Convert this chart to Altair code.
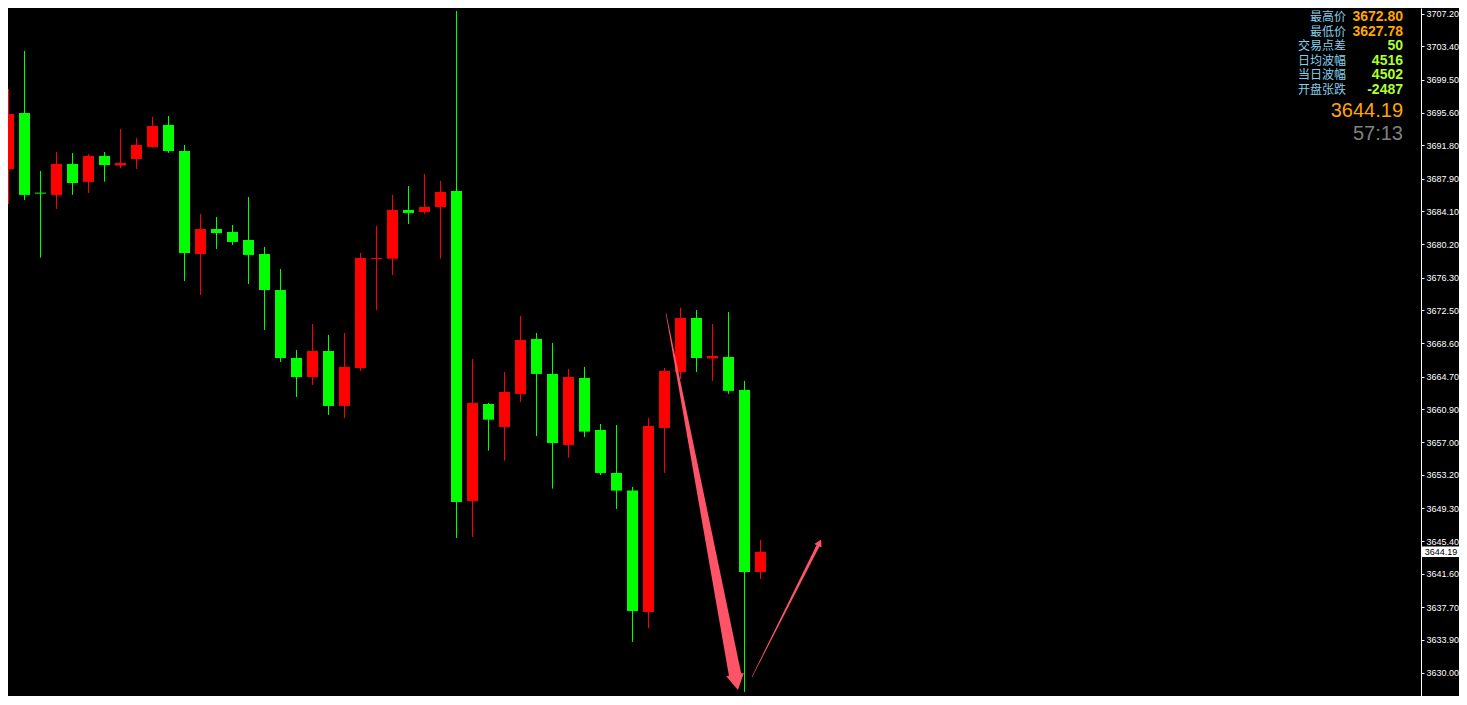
import altair as alt
import pandas as pd

# ---------------- data ----------------
opens = [3689.04, 3695.60, 3686.27, 3686.00, 3689.63, 3687.52, 3690.57, 3689.45, 3690.21, 3691.62,
         3694.20, 3691.15, 3679.08, 3682.01, 3681.66, 3680.72, 3679.08, 3674.86, 3666.90, 3664.67,
         3667.72, 3661.28, 3665.73, 3678.50, 3678.53, 3684.24, 3684.00, 3684.59, 3686.46, 3650.15,
         3661.51, 3658.82, 3662.69, 3669.13, 3665.03, 3656.71, 3664.56, 3658.47, 3653.43, 3651.36,
         3637.13, 3658.70, 3665.26, 3671.59, 3666.84, 3667.02, 3663.15, 3641.83]
highs = [3698.41, 3702.87, 3688.81, 3691.03, 3690.92, 3690.80, 3691.03, 3693.73, 3692.67, 3695.13,
         3695.25, 3691.85, 3683.77, 3683.42, 3682.48, 3685.76, 3679.90, 3677.33, 3667.84, 3670.88,
         3669.60, 3669.83, 3679.20, 3682.36, 3686.00, 3687.05, 3688.46, 3687.64, 3707.55, 3666.78,
         3661.63, 3665.26, 3671.82, 3669.83, 3668.66, 3665.61, 3665.85, 3659.17, 3659.05, 3651.79,
         3659.87, 3665.73, 3672.80, 3672.52, 3670.88, 3672.29, 3664.21, 3645.58]
lows = [3684.94, 3685.41, 3678.65, 3684.36, 3686.00, 3686.23, 3687.55, 3689.16, 3689.04, 3691.50,
        3690.92, 3675.92, 3674.28, 3679.67, 3680.14, 3675.57, 3670.18, 3666.43, 3662.33, 3663.74,
        3660.22, 3659.87, 3665.38, 3672.52, 3676.62, 3682.60, 3683.77, 3678.53, 3645.81, 3645.93,
        3656.04, 3654.86, 3661.75, 3657.76, 3651.59, 3655.22, 3657.64, 3653.19, 3649.21, 3633.63,
        3635.27, 3653.43, 3664.44, 3665.26, 3664.21, 3662.69, 3627.78, 3641.01]
closes = [3695.48, 3686.00, 3686.15, 3689.63, 3687.40, 3690.57, 3689.51, 3689.74, 3691.85, 3694.08,
          3691.15, 3679.20, 3682.01, 3681.54, 3680.49, 3678.97, 3674.86, 3666.90, 3664.67, 3667.72,
          3661.28, 3665.85, 3678.62, 3678.62, 3684.24, 3683.89, 3684.59, 3686.35, 3650.03, 3661.63,
          3659.67, 3662.92, 3669.01, 3665.03, 3656.94, 3664.67, 3658.27, 3653.43, 3651.36, 3637.25,
          3658.93, 3665.38, 3671.59, 3666.90, 3667.13, 3663.04, 3641.83, 3644.19]

axis_ticks = [3707.20, 3703.40, 3699.50, 3695.60, 3691.80, 3687.90, 3684.10, 3680.20, 3676.30,
              3672.50, 3668.60, 3664.70, 3660.90, 3657.00, 3653.20, 3649.30, 3645.40, 3641.60,
              3637.70, 3633.90, 3630.00, 3626.10]

info_labels = ["最高价", "最低价", "交易点差", "日均波幅", "当日波幅", "开盘张跌"]
info_values = ["3672.80", "3627.78", "50", "4516", "4502", "-2487"]
info_colors = ["#FFA500", "#FFA500", "#ADFF2F", "#ADFF2F", "#ADFF2F", "#ADFF2F"]
last_price = 3644.19
big_price_text = "3644.19"
timer_text = "57:13"

# arrows (bar index, price)
arrow1_idx = [41.09, 45.41]
arrow1_price = [3672.17, 3629.80]
arrow1_width = [0.5, 12.5]
head1_idx = [45.50]
head1_price = [3628.91]

arrow2_idx = [46.47, 50.61]
arrow2_price = [3629.53, 3644.95]
arrow2_width = [0.5, 3.2]
head2_idx = [50.69]
head2_price = [3645.26]

# ---------------- chart ----------------
W, H = 1413, 688
PAD_R = 38
ARROW = "#FF5468"

xscale = alt.Scale(domain=[-0.03125, 88.28125], nice=False, zero=False)
yscale = alt.Scale(domain=[3627.30, 3707.90], nice=False, zero=False)
yaxis = alt.Axis(orient="right", values=axis_ticks, format=".2f", labelColor="#FFFFFF",
                 domainColor="#FFFFFF", tickColor="#FFFFFF", tickSize=3, labelPadding=2,
                 labelFont="Liberation Sans", labelFontSize=9, grid=False, title=None,
                 labelOverlap=False)

candles = pd.DataFrame({"i": list(range(len(opens))), "open": opens, "high": highs,
                        "low": lows, "close": closes})

color = alt.Color("dir:N", scale=alt.Scale(domain=["up", "down"], range=["#FF0000", "#00FF00"]),
                  legend=None)

base = alt.Chart(candles).transform_calculate(
    dir="datum.close >= datum.open ? 'up' : 'down'",
    lo="min(datum.open, datum.close)",
    hi="max(datum.open, datum.close)",
    xl="datum.i - 0.34375",
    xr="datum.i + 0.34375",
)

wicks = base.mark_rule(strokeWidth=1, clip=True).encode(
    x=alt.X("i:Q", scale=xscale, axis=None),
    y=alt.Y("low:Q", scale=yscale, axis=yaxis),
    y2="high:Q",
    color=color,
)
bodies = base.mark_rect(clip=True).encode(
    x=alt.X("xl:Q", scale=xscale, axis=None),
    x2="xr:Q",
    y=alt.Y("lo:Q", scale=yscale, axis=yaxis),
    y2="hi:Q",
    color=color,
)

arrows_df = pd.DataFrame({
    "idx": arrow1_idx + arrow2_idx,
    "price": arrow1_price + arrow2_price,
    "w": arrow1_width + arrow2_width,
    "arrow": ["a1", "a1", "a2", "a2"],
})
trails = alt.Chart(arrows_df).mark_trail(color=ARROW).encode(
    x=alt.X("idx:Q", scale=xscale, axis=None),
    y=alt.Y("price:Q", scale=yscale, axis=yaxis),
    size=alt.Size("w:Q", scale=None, legend=None),
    detail="arrow:N",
)
head1 = alt.Chart(pd.DataFrame({"idx": head1_idx, "price": head1_price})).mark_point(
    shape="triangle-down", filled=True, size=324, angle=349, color=ARROW, opacity=1, strokeWidth=0
).encode(x=alt.X("idx:Q", scale=xscale, axis=None), y=alt.Y("price:Q", scale=yscale, axis=yaxis))
head2 = alt.Chart(pd.DataFrame({"idx": head2_idx, "price": head2_price})).mark_point(
    shape="triangle-up", filled=True, size=64, angle=27, color=ARROW, opacity=1, strokeWidth=0
).encode(x=alt.X("idx:Q", scale=xscale, axis=None), y=alt.Y("price:Q", scale=yscale, axis=yaxis))

# info panel
info_layers = []
for r, (lab, val, col) in enumerate(zip(info_labels, info_values, info_colors)):
    ypx = 9 + 14.5 * r
    info_layers.append(
        alt.Chart(pd.DataFrame({"t": [lab]})).mark_text(
            align="right", baseline="middle", font="Noto Sans CJK SC", fontSize=12,
            color="#87CEEB").encode(text="t:N", x=alt.value(1338), y=alt.value(ypx))
    )
    info_layers.append(
        alt.Chart(pd.DataFrame({"t": [val]})).mark_text(
            align="right", baseline="middle", font="Liberation Sans", fontSize=14,
            fontWeight="bold", color=col).encode(text="t:N", x=alt.value(1395), y=alt.value(ypx))
    )
big_price = alt.Chart(pd.DataFrame({"t": [big_price_text]})).mark_text(
    align="right", baseline="middle", font="Liberation Sans", fontSize=20, color="#FFA500"
).encode(text="t:N", x=alt.value(1395), y=alt.value(103))
timer = alt.Chart(pd.DataFrame({"t": [timer_text]})).mark_text(
    align="right", baseline="middle", font="Liberation Sans", fontSize=20, color="#808080"
).encode(text="t:N", x=alt.value(1395), y=alt.value(126))

# current price tag on the axis
tag_df = pd.DataFrame({"price": [last_price], "t": [f"{last_price:.2f}"]})
tag_box = alt.Chart(tag_df).transform_calculate(
    lo="datum.price - 0.62", hi="datum.price + 0.62"
).mark_rect(color="#FFFFFF").encode(
    x=alt.value(W), x2=alt.value(W + PAD_R),
    y=alt.Y("lo:Q", scale=yscale, axis=yaxis), y2="hi:Q",
)
tag_text = alt.Chart(tag_df).mark_text(
    align="center", baseline="middle", font="Liberation Sans", fontSize=9, color="#000000"
).encode(text="t:N", x=alt.value(W + PAD_R / 2 + 1), y=alt.Y("price:Q", scale=yscale, axis=yaxis))

chart = alt.layer(
    wicks, bodies, trails, head1, head2, *info_layers, big_price, timer, tag_box, tag_text
).properties(
    width=W, height=H,
    autosize=alt.AutoSizeParams(type="none"),
    padding={"left": 0, "top": 0, "right": PAD_R, "bottom": 0},
    background="#000000",
).configure_view(strokeWidth=0)

chart.save("out.html", embed_options={"renderer": "svg", "actions": False})
